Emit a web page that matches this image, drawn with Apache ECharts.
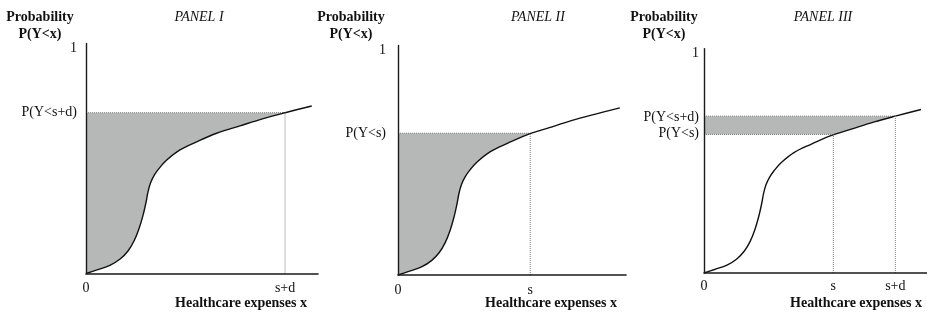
<!DOCTYPE html>
<html>
<head>
<meta charset="utf-8">
<script src="https://cdn.jsdelivr.net/npm/echarts@6/dist/echarts.min.js"></script>
<style>
  html, body { margin: 0; padding: 0; background: #fff; }
  #chart { width: 927px; height: 313px; }
</style>
</head>
<body>
<div id="chart"></div>
<script>
// cumulative distribution curve (x: 0..100 across the axis, y: probability)
var curveX = [0, 4.7, 10.3, 14.7, 18.1, 20.7, 22.8, 24.6, 25.9, 26.7, 27.8, 29.5, 31.5, 34.8, 40.5, 47.7, 56.3, 66.4, 76.4, 85.8, 97.3];
var curveY = [0, 0.016, 0.036, 0.064, 0.100, 0.144, 0.197, 0.259, 0.317, 0.361, 0.401, 0.437, 0.466, 0.503, 0.548, 0.584, 0.622, 0.655, 0.687, 0.713, 0.743];

// marked points
var sX = 58;
var sdX = 85.8;
var pS = 0.63;
var pSD = 0.713;

// tick labels
var panelTitles = ['PANEL I', 'PANEL II', 'PANEL III'];
var yTicks = [[1, pSD], [1, pS], [1, pSD, pS]];
var yTickLabels = [['1', 'P(Y<s+d)'], ['1', 'P(Y<s)'], ['1', 'P(Y<s+d)', 'P(Y<s)']];
var xTicks = [[0, sdX], [0, sX], [0, sX, sdX]];
var xTickLabels = [['0', 's+d'], ['0', 's'], ['0', 's', 's+d']];

var FONT = '"Liberation Serif", "Times New Roman", serif';
var GRAY = '#b6b8b8';
var DOT = '#7d7d7d';

var curve = curveX.map(function (x, i) { return [x, curveY[i]]; });

// layout of each panel
var panels = [
    { left: 86, top: 43.5, width: 232, height: 230, xMargin: 8, yMargin: 9, head: 40, title: 199, name: 241 },
    { left: 398, top: 45.5, width: 228, height: 229.5, xMargin: 8, yMargin: 12, head: 351, title: 538, name: 551 },
    { left: 704, top: 48.6, width: 226, height: 224.4, xMargin: 6, yMargin: 5, head: 664, title: 823, name: 856 }
];

var grid = [], xAxis = [], yAxis = [], series = [], title = [];

function txt(text, x, y, bold, italic) {
    return {
        text: text, left: x, top: y, padding: 0,
        textAlign: 'center', textVerticalAlign: 'middle',
        textStyle: {
            fontFamily: FONT, fontSize: 14, color: '#111',
            fontWeight: bold ? 'bold' : 'normal',
            fontStyle: italic ? 'italic' : 'normal'
        }
    };
}

function levelLine(i, x, p, fill) {
    return {
        type: 'line', xAxisIndex: i, yAxisIndex: i, symbol: 'none', silent: true,
        data: [[0, p], [x, p]],
        lineStyle: { color: DOT, width: 1, type: 'dotted' },
        areaStyle: { color: fill, opacity: 1 }
    };
}

function dropLine(i, x, p) {
    return {
        type: 'line', xAxisIndex: i, yAxisIndex: i, symbol: 'none', silent: true,
        data: [[x, 0], [x, p]],
        lineStyle: { color: DOT, width: 1, type: 'dotted' }
    };
}

panels.forEach(function (c, i) {
    grid.push({ left: c.left, top: c.top, width: c.width, height: c.height });
    xAxis.push({
        type: 'value', gridIndex: i, min: 0, max: 100, z: 10,
        axisLine: { lineStyle: { color: '#1a1a1a', width: 1.6 } },
        axisTick: { show: false },
        splitLine: { show: false },
        axisLabel: {
            customValues: xTicks[i], margin: c.xMargin,
            hideOverlap: false, showMinLabel: true, showMaxLabel: true,
            fontFamily: FONT, fontSize: 14, color: '#111',
            formatter: function (v) { return xTickLabels[i][xTicks[i].indexOf(v)]; }
        }
    });
    yAxis.push({
        type: 'value', gridIndex: i, min: 0, max: 1.02, z: 10,
        axisLine: { show: true, lineStyle: { color: '#1a1a1a', width: 1.4 } },
        axisTick: { show: false },
        splitLine: { show: false },
        axisLabel: {
            customValues: yTicks[i], margin: c.yMargin,
            hideOverlap: false, showMinLabel: true, showMaxLabel: true,
            fontFamily: FONT, fontSize: 14, color: '#111',
            formatter: function (v) {
                var t = yTickLabels[i][yTicks[i].indexOf(v)];
                if (i === 2 && t === 'P(Y<s+d)') return '{hi|' + t + '}';
                if (i === 2 && t === 'P(Y<s)') return '{lo|' + t + '}';
                return t;
            },
            rich: {
                hi: { fontFamily: FONT, fontSize: 14, color: '#111', padding: [2, 0, 0, 0] },
                lo: { fontFamily: FONT, fontSize: 14, color: '#111', padding: [0, 0, 2, 0] }
            }
        }
    });

    if (i === 0) {
        series.push(levelLine(i, sdX, pSD, GRAY));
    } else if (i === 1) {
        series.push(levelLine(i, sX, pS, GRAY));
    } else {
        series.push(levelLine(i, sdX, pSD, GRAY));
        series.push(levelLine(i, sX, pS, '#fff'));
    }
    series.push({
        type: 'line', xAxisIndex: i, yAxisIndex: i, symbol: 'none', silent: true,
        smooth: 0.35,
        data: curve,
        lineStyle: { color: '#111', width: 1.4 },
        areaStyle: { color: '#fff', opacity: 1 }
    });
    if (i === 0) {
        series.push(dropLine(i, sdX, pSD));
    } else if (i === 1) {
        series.push(dropLine(i, sX, pS));
    } else {
        series.push(dropLine(i, sX, pS));
        series.push(dropLine(i, sdX, pSD));
    }

    title.push(txt('Probability', c.head, 17, true));
    title.push(txt('P(Y<x)', c.head, 34, true));
    title.push(txt(panelTitles[i], c.title, 17, false, true));
    title.push(txt('Healthcare expenses x', c.name, 303, true));
});

var myChart = echarts.init(document.getElementById('chart'));
var option = {
    animation: false,
    backgroundColor: '#fff',
    title: title,
    grid: grid,
    xAxis: xAxis,
    yAxis: yAxis,
    series: series
};
myChart.setOption(option);
</script>
</body>
</html>
